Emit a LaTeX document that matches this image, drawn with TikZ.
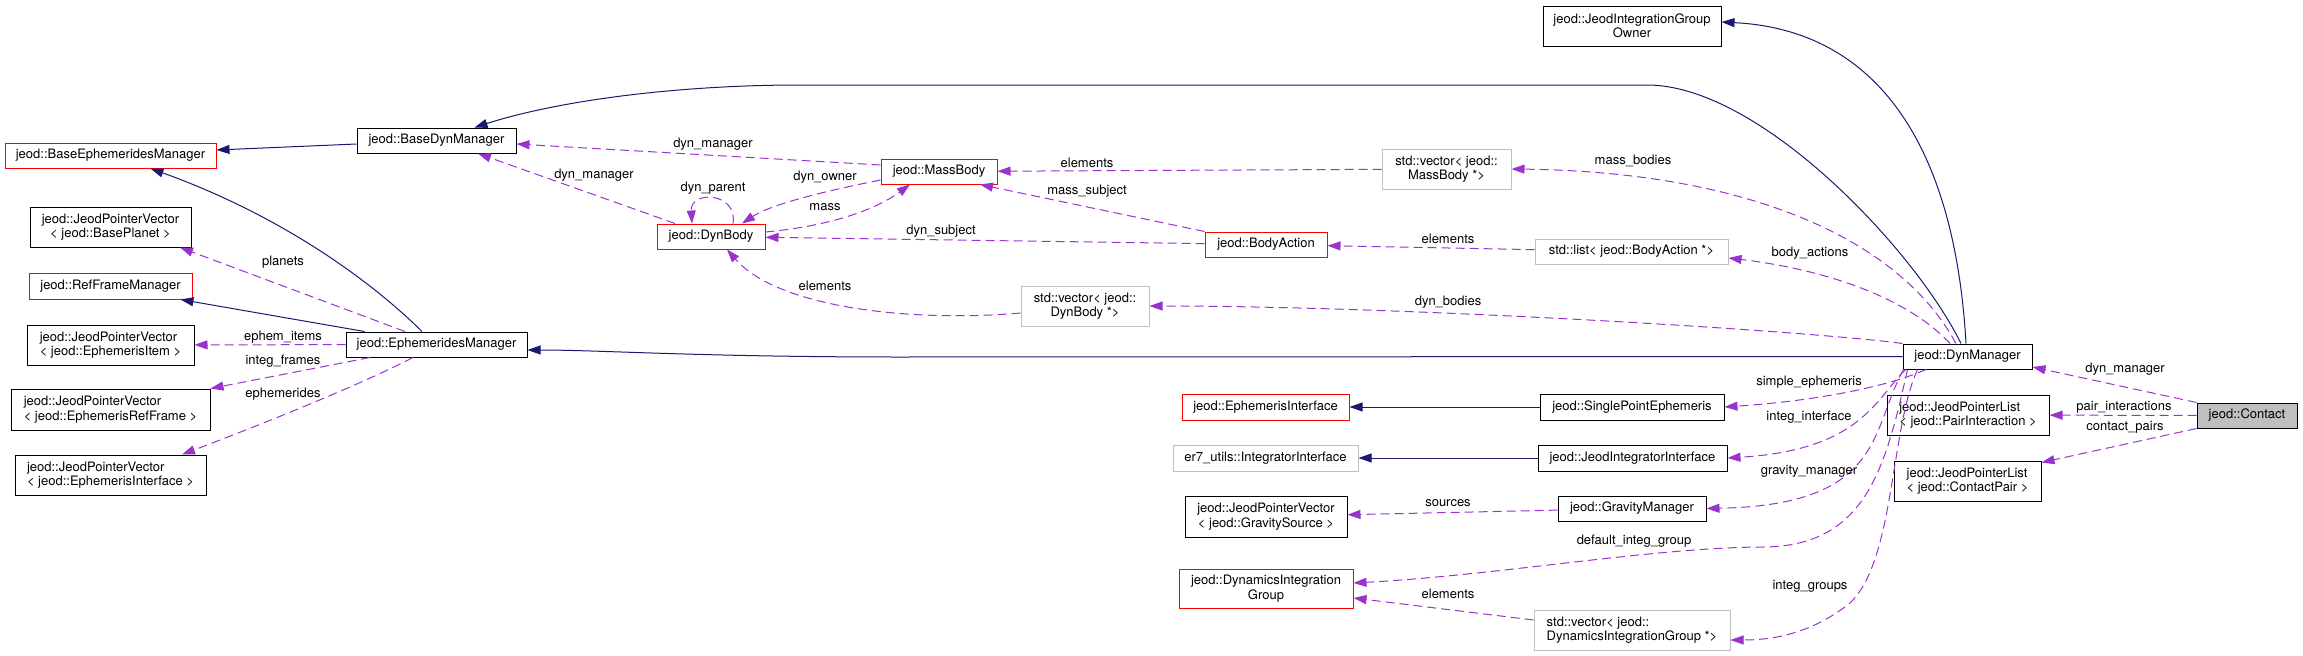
\documentclass[tikz,border=0pt]{standalone}
\usepackage{fontspec}
\setmainfont{TeX Gyre Heros}
\usetikzlibrary{arrows.meta}
\definecolor{edgeBlue}{RGB}{25,25,112}
\definecolor{edgePurple}{RGB}{154,50,205}
\definecolor{boxGray}{RGB}{191,191,191}

\begin{document}
\begin{tikzpicture}
[x=1pt, y=-1pt,%
  font=\fontsize{13}{14.5}\selectfont,%
  classBox/.style={draw=black, line width=1pt, inner sep=0pt, minimum height=25pt, align=center},%
  redBox/.style={classBox, draw=red},%
  grayBox/.style={classBox, draw=boxGray},%
  baseLine/.style={draw=edgeBlue, line width=1pt, -{Triangle[length=13pt,width=9pt]}},%
  useLine/.style={draw=edgePurple, line width=1pt, dash pattern=on 9pt off 5pt, -{Triangle[length=13pt,width=9pt]}},%
  edgeLabel/.style={inner sep=0pt}]
\useasboundingbox (0,0) rectangle (2303,656);

%% left column
\node[redBox, minimum width=211pt] (baseEphMgr) at (110.5,155.5) {jeod::BaseEphemeridesManager};
\node[classBox, minimum width=161pt, minimum height=40pt] (planetVec) at (110.5,227) {jeod::JeodPointerVector\\< jeod::BasePlanet >};
\node[redBox, minimum width=163pt, minimum height=26pt] (refFrameMgr) at (110.5,286) {jeod::RefFrameManager};
\node[classBox, minimum width=167pt, minimum height=40pt, align=left] (itemVec) at (110.5,345) {jeod::JeodPointerVector\\< jeod::EphemerisItem >};
\node[classBox, minimum width=199pt, minimum height=41pt, align=left] (refFrameVec) at (110.5,409.5) {jeod::JeodPointerVector\\< jeod::EphemerisRefFrame >};
\node[classBox, minimum width=191pt, minimum height=40pt, align=left] (ephIfVec) at (110.5,475) {jeod::JeodPointerVector\\< jeod::EphemerisInterface >};

%% middle
\node[classBox, minimum width=181pt] (ephMgr) at (436.5,344.5) {jeod::EphemeridesManager};
\node[classBox, minimum width=159pt] (baseDynMgr) at (436.5,140.5) {jeod::BaseDynManager};
\node[redBox, minimum width=108pt] (dynBody) at (711,236.5) {jeod::DynBody};
\node[redBox, minimum width=116pt] (massBody) at (939,171.5) {jeod::MassBody};
\node[redBox, minimum width=122pt] (bodyAction) at (1266,244.5) {jeod::BodyAction};
\node[grayBox, minimum width=128pt, minimum height=40pt] (dynBodyVec) at (1085,306) {std::vector< jeod::\\DynBody *>};
\node[grayBox, minimum width=129pt, minimum height=40pt] (massBodyVec) at (1446.5,169) {std::vector< jeod::\\MassBody *>};
\node[grayBox, minimum width=193pt] (bodyActionList) at (1631.5,251.5) {std::list< jeod::BodyAction *>};
\node[classBox, minimum width=178pt, minimum height=40pt] (integGroupOwner) at (1632,26) {jeod::JeodIntegrationGroup\\Owner};
\node[redBox, minimum width=167pt, minimum height=26pt] (ephIf) at (1265.5,407) {jeod::EphemerisInterface};
\node[grayBox, minimum width=185pt, minimum height=26pt] (integratorIf) at (1265.5,458) {er7\_utils::IntegratorInterface};
\node[classBox, minimum width=162pt, minimum height=41pt] (gravSrcVec) at (1266,516.5) {jeod::JeodPointerVector\\< jeod::GravitySource >};
\node[redBox, minimum width=174pt, minimum height=39pt] (integGroup) at (1266,588.5) {jeod::DynamicsIntegration\\Group};
\node[classBox, minimum width=184pt, minimum height=26pt] (singlePointEph) at (1632,407) {jeod::SinglePointEphemeris};
\node[classBox, minimum width=189pt, minimum height=26pt] (jeodIntegratorIf) at (1632.5,458) {jeod::JeodIntegratorInterface};
\node[classBox, minimum width=148pt] (gravMgr) at (1632,508.5) {jeod::GravityManager};
\node[grayBox, minimum width=196pt, minimum height=40pt, align=left] (integGroupVec) at (1632,630) {std::vector< jeod::\\DynamicsIntegrationGroup *>};

%% right column
\node[classBox, minimum width=129pt] (dynMgr) at (1967.5,356.5) {jeod::DynManager};
\node[classBox, minimum width=162pt, minimum height=40pt, align=left] (pairList) at (1968,415) {jeod::JeodPointerList\\< jeod::PairInteraction >};
\node[classBox, minimum width=147pt, minimum height=40pt, align=left] (contactPairList) at (1967.5,481) {jeod::JeodPointerList\\< jeod::ContactPair >};
\node[classBox, fill=boxGray, minimum width=100pt] (contact) at (2247,415.5) {jeod::Contact};

%% inheritance
\draw[baseLine] ([yshift=-3.5pt]baseDynMgr.west) -- ([yshift=5.5pt]baseEphMgr.east);
\draw[baseLine] ([xshift=-14.5pt]ephMgr.north) .. controls (370,280) and (280,215) .. ([xshift=40pt]baseEphMgr.south);
\draw[baseLine] ([xshift=-72pt]ephMgr.north) -- ([xshift=70pt]refFrameMgr.south);
\draw[baseLine] ([xshift=-6.5pt]dynMgr.north) .. controls (1915,250) and (1760,85) .. (1647,85) -- (800,85) .. controls (680,85) and (560,100) .. ([xshift=38pt]baseDynMgr.north);
\draw[baseLine] ([xshift=-1.5pt]dynMgr.north) .. controls (1955,150) and (1880,30) .. ([yshift=4pt]integGroupOwner.east);
\draw[baseLine] (dynMgr.west) -- (900,357) .. controls (700,357) and (600,350) .. ([yshift=-5.5pt]ephMgr.east);
\draw[baseLine] (singlePointEph) -- (ephIf);
\draw[baseLine] (jeodIntegratorIf) -- (integratorIf);

%% straight members
\foreach \src/\dst/\lbl/\lx/\ly in {massBodyVec/massBody/elements/1087/163,
  bodyActionList/bodyAction/elements/1448/239, gravMgr/gravSrcVec/sources/1448/503,
  contact/pairList/pair\_interactions/2124/407, ephMgr/itemVec/ephem\_items/283/337,
  bodyAction/dynBody/dyn\_subject/941/231}
{
  \draw[useLine] (\src) -- (\dst);
  \node[edgeLabel] (lbl-\src-\dst) at (\lx,\ly) {\lbl};
}

%% bent members
\draw[useLine] ([xshift=-31.5pt]ephMgr.north) -- ([xshift=69.5pt]planetVec.south)
  node[edgeLabel] (lblPlanets) at (283,262) {planets};
\draw[useLine] ([xshift=-66.5pt]ephMgr.south) -- (refFrameVec.north east)
  node[edgeLabel] (lblIntegFrames) at (283,361) {integ\_frames};
\draw[useLine] ([xshift=-23.5pt]ephMgr.south) .. controls (360,385) and (260,425) .. ([xshift=71.5pt]ephIfVec.north)
  node[edgeLabel] (lblEphemerides) at (283,394) {ephemerides};
\draw[useLine] ([xshift=-36pt]dynBody.north) -- ([xshift=41.5pt]baseDynMgr.south)
  node[edgeLabel] (lblBodyMgr) at (594,175) {dyn\_manager};
\draw[useLine] ([yshift=6.5pt]massBody.west) -- ([yshift=-3.5pt]baseDynMgr.east)
  node[edgeLabel] (lblMassMgr) at (713,144) {dyn\_manager};
\draw[useLine] ([xshift=22pt]dynBody.north) .. controls (738,192) and (690,190) .. ([xshift=-19pt]dynBody.north)
  node[edgeLabel] (lblParent) at (713,188) {dyn\_parent};
\draw[useLine] ([yshift=-8.5pt]massBody.west) .. controls (820,192) and (770,205) .. ([xshift=31pt]dynBody.north)
  node[edgeLabel] (lblOwner) at (825,177) {dyn\_owner};
\draw[useLine] ([yshift=4.5pt]dynBody.east) .. controls (830,226) and (875,210) .. ([xshift=-29pt]massBody.south)
  node[edgeLabel] (lblMass) at (825,207) {mass};
\draw[useLine] (bodyAction.north west) -- ([xshift=41pt]massBody.south)
  node[edgeLabel] (lblMassSubject) at (1087,191) {mass\_subject};
\draw[useLine] ([yshift=-7pt]dynBodyVec.west) .. controls (920,322) and (780,310) .. ([xshift=16pt]dynBody.south)
  node[edgeLabel] (lblBodyElements) at (825,286) {elements};
\draw[useLine] ([xshift=-11.5pt]dynMgr.north) .. controls (1900,240) and (1750,172) .. (massBodyVec.east)
  node[edgeLabel] (lblMassBodies) at (1633,161) {mass\_bodies};
\draw[useLine] ([xshift=-17.5pt]dynMgr.north) .. controls (1910,300) and (1830,270) .. ([yshift=-6.5pt]bodyActionList.east)
  node[edgeLabel] (lblBodyActions) at (1810,253) {body\_actions};
\draw[useLine] (dynMgr.north west) .. controls (1800,330) and (1400,306) .. (dynBodyVec.east)
  node[edgeLabel] (lblDynBodies) at (1448,302) {dyn\_bodies};
\draw[useLine] (contact.north west) -- ([yshift=-10.5pt]dynMgr.east)
  node[edgeLabel] (lblContactMgr) at (2125,369) {dyn\_manager};
\draw[useLine] (contact.south west) -- ([yshift=-2pt]contactPairList.north east)
  node[edgeLabel] (lblContactPairs) at (2125,427) {contact\_pairs};
\draw[useLine] ([xshift=-41.5pt]dynMgr.south) .. controls (1880,390) and (1800,402) .. (singlePointEph.east)
  node[edgeLabel] (lblSimpleEph) at (1809,382) {simple\_ephemeris};
\draw[useLine] ([xshift=-62pt]dynMgr.south) .. controls (1875,400) and (1860,450) .. (jeodIntegratorIf.east)
  node[edgeLabel] (lblIntegIf) at (1809,417) {integ\_interface};
\draw[useLine] ([xshift=-64pt]dynMgr.south) .. controls (1870,430) and (1885,505) .. (gravMgr.east)
  node[edgeLabel] (lblGravMgr) at (1809,471) {gravity\_manager};
\draw[useLine] ([xshift=-60pt]dynMgr.south) .. controls (1885,470) and (1865,548) .. (1760,547)
  .. controls (1650,548) and (1500,575) .. ([yshift=5.5pt]integGroup.east)
  node[edgeLabel] (lblDefaultGroup) at (1634,541) {default\_integ\_group};
\draw[useLine] ([xshift=-50pt]dynMgr.south) .. controls (1890,430) and (1895,560) .. (1850,603)
  .. controls (1810,635) and (1770,640) .. ([yshift=-10pt]integGroupVec.east)
  node[edgeLabel] (lblIntegGroups) at (1810,586) {integ\_groups};
\draw[useLine] ([yshift=10pt]integGroupVec.west) -- ([yshift=-9.5pt]integGroup.east)
  node[edgeLabel] (lblGroupElements) at (1448,594) {elements};
\end{tikzpicture}
\end{document}
